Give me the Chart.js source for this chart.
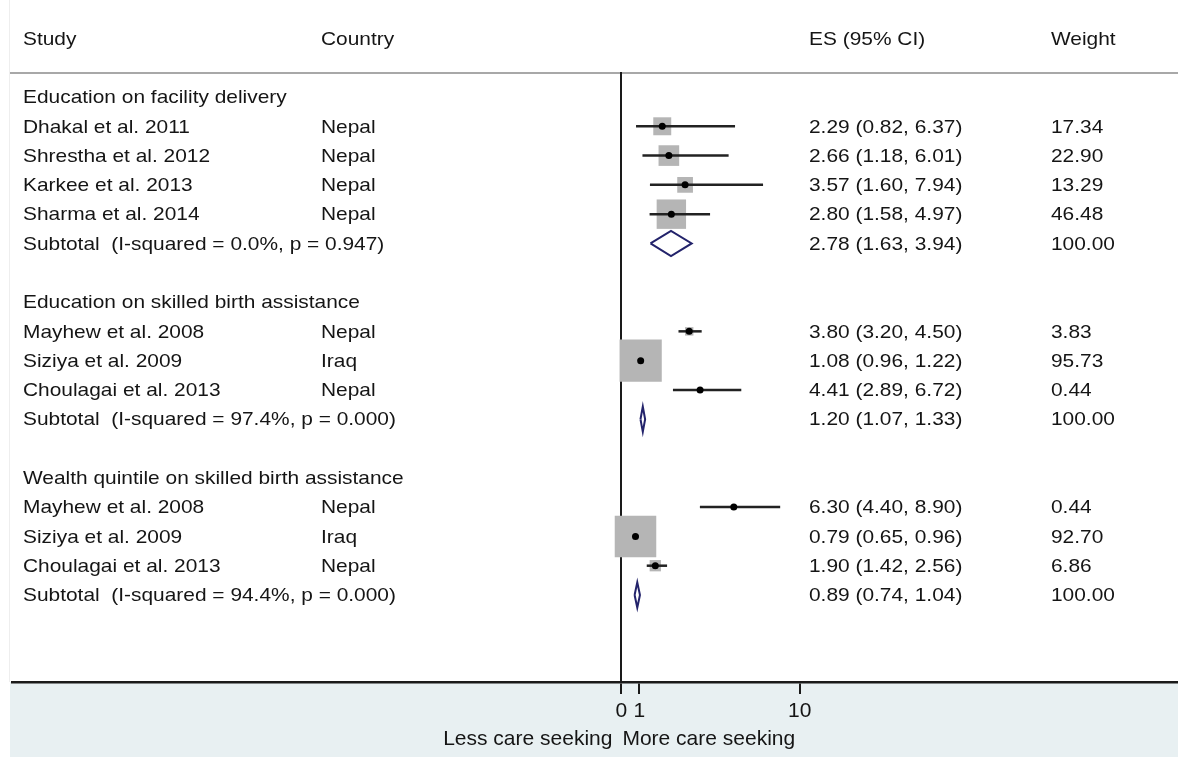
<!DOCTYPE html>
<html>
<head>
<meta charset="utf-8">
<script src="https://cdn.jsdelivr.net/npm/chart.js@4.4.1/dist/chart.umd.min.js"></script>
<style>
  html, body { margin: 0; padding: 0; background: #fff; }
  #forest { display: block; }
</style>
</head>
<body>
<canvas id="forest" width="1178" height="757"></canvas>
<script>
// table / plot data
const groupNames = ['Education on facility delivery', 'Education on skilled birth assistance', 'Wealth quintile on skilled birth assistance'];
const groupRows = [0, 7, 13];

const studies = ['Dhakal et al. 2011', 'Shrestha et al. 2012', 'Karkee et al. 2013', 'Sharma et al. 2014',
                 'Mayhew et al. 2008', 'Siziya et al. 2009', 'Choulagai et al. 2013',
                 'Mayhew et al. 2008', 'Siziya et al. 2009', 'Choulagai et al. 2013'];
const countries = ['Nepal', 'Nepal', 'Nepal', 'Nepal', 'Nepal', 'Iraq', 'Nepal', 'Nepal', 'Iraq', 'Nepal'];
const studyRows = [1, 2, 3, 4, 8, 9, 10, 14, 15, 16];
const studyES = [2.29, 2.66, 3.57, 2.80, 3.80, 1.08, 4.41, 6.30, 0.79, 1.90];
const studyLow = [0.82, 1.18, 1.60, 1.58, 3.20, 0.96, 2.89, 4.40, 0.65, 1.42];
const studyHigh = [6.37, 6.01, 7.94, 4.97, 4.50, 1.22, 6.72, 8.90, 0.96, 2.56];
const studyWeight = [17.34, 22.90, 13.29, 46.48, 3.83, 95.73, 0.44, 0.44, 92.70, 6.86];

const subtotalLabels = ['Subtotal  (I-squared = 0.0%, p = 0.947)', 'Subtotal  (I-squared = 97.4%, p = 0.000)', 'Subtotal  (I-squared = 94.4%, p = 0.000)'];
const subtotalRows = [5, 11, 17];
const subtotalES = [2.78, 1.20, 0.89];
const subtotalLow = [1.63, 1.07, 0.74];
const subtotalHigh = [3.94, 1.33, 1.04];
const subtotalWeight = [100, 100, 100];

const tickValues = [0, 1, 10];
const tickLabels = ['0', '1', '10'];
const headers = ['Study', 'Country', 'ES (95% CI)', 'Weight'];
const sideLabels = ['Less care seeking', 'More care seeking'];

// look
const FAMILY = '"Liberation Sans", Arial, sans-serif';
const FONT = '19px ' + FAMILY;
const TEXT = '#151515';
const colX = [23, 321, 809, 1051];
const stretch = 1.1;       // table text is a bit wider than plain Arial
const boxScale = 3.05;     // point radius per sqrt(weight)
const diamondHalf = 0.43;  // in rows

function fmt(v) { return v.toFixed(2); }
function ciText(e, l, h) { return fmt(e) + ' (' + fmt(l) + ', ' + fmt(h) + ')'; }

function wideText(ctx, t, x, y) {
    ctx.save();
    ctx.translate(x, y);
    ctx.scale(stretch, 1);
    ctx.fillText(t, 0, 0);
    ctx.restore();
}

let datasets = [];

// CI lines
studies.forEach(function(s, i) {
    datasets.push({
        type: 'scatter',
        showLine: true,
        data: [{x: studyLow[i], y: studyRows[i]}, {x: studyHigh[i], y: studyRows[i]}],
        borderColor: '#222',
        borderWidth: 2.5,
        pointRadius: 0,
        order: 1
    });
});

// pooled diamonds
subtotalLabels.forEach(function(s, i) {
    let r = subtotalRows[i];
    datasets.push({
        type: 'scatter',
        showLine: true,
        data: [
            {x: subtotalLow[i], y: r},
            {x: subtotalES[i], y: r - diamondHalf},
            {x: subtotalHigh[i], y: r},
            {x: subtotalES[i], y: r + diamondHalf},
            {x: subtotalLow[i], y: r}
        ],
        borderColor: '#23236b',
        borderWidth: 2,
        borderJoinStyle: 'miter',
        pointRadius: 0,
        order: 1
    });
});

// weight boxes
datasets.push({
    type: 'scatter',
    data: studies.map(function(s, i) { return {x: studyES[i], y: studyRows[i]}; }),
    pointStyle: 'rect',
    pointRadius: studyWeight.map(function(w) { return boxScale * Math.sqrt(w); }),
    pointBackgroundColor: '#b5b5b5',
    pointBorderWidth: 0,
    order: 2
});

// point estimates
datasets.push({
    type: 'scatter',
    data: studies.map(function(s, i) { return {x: studyES[i], y: studyRows[i]}; }),
    pointStyle: 'circle',
    pointRadius: 3.5,
    pointBackgroundColor: '#000',
    pointBorderWidth: 0,
    order: 0
});

const forestText = {
    id: 'forestText',
    beforeDraw: function(chart) {
        const ctx = chart.ctx;
        const area = chart.chartArea;
        ctx.save();
        ctx.fillStyle = '#fff';
        ctx.fillRect(0, 0, chart.width, chart.height);
        ctx.fillStyle = '#e8f0f2';
        ctx.fillRect(area.left - 2, area.bottom, chart.width - area.left + 2, chart.height - area.bottom);
        // header rule
        ctx.strokeStyle = '#a8a8a8';
        ctx.lineWidth = 2;
        ctx.beginPath();
        ctx.moveTo(area.left - 2, area.top + 1);
        ctx.lineTo(chart.width, area.top + 1);
        ctx.stroke();
        ctx.strokeStyle = '#eeeeee';
        ctx.lineWidth = 1;
        ctx.beginPath();
        ctx.moveTo(area.left - 2.5, 0);
        ctx.lineTo(area.left - 2.5, area.bottom);
        ctx.stroke();
        ctx.restore();
    },
    afterDraw: function(chart) {
        const ctx = chart.ctx;
        const y = chart.scales.y;
        const x = chart.scales.x;
        const area = chart.chartArea;
        ctx.save();
        ctx.font = FONT;
        ctx.fillStyle = TEXT;
        ctx.textBaseline = 'middle';
        ctx.textAlign = 'left';

        headers.forEach(function(h, i) {
            wideText(ctx, h, colX[i], y.getPixelForValue(-2) + 1);
        });
        groupNames.forEach(function(g, i) {
            wideText(ctx, g, colX[0], y.getPixelForValue(groupRows[i]) + 1);
        });
        studies.forEach(function(s, i) {
            let py = y.getPixelForValue(studyRows[i]) + 1;
            wideText(ctx, s, colX[0], py);
            wideText(ctx, countries[i], colX[1], py);
            wideText(ctx, ciText(studyES[i], studyLow[i], studyHigh[i]), colX[2], py);
            wideText(ctx, fmt(studyWeight[i]), colX[3], py);
        });
        subtotalLabels.forEach(function(s, i) {
            let py = y.getPixelForValue(subtotalRows[i]) + 1;
            wideText(ctx, s, colX[0], py);
            wideText(ctx, ciText(subtotalES[i], subtotalLow[i], subtotalHigh[i]), colX[2], py);
            wideText(ctx, fmt(subtotalWeight[i]), colX[3], py);
        });

        // direction labels either side of the null line
        let x0 = x.getPixelForValue(0);
        let ly = area.bottom + 57;
        ctx.font = '21px ' + FAMILY;
        ctx.textAlign = 'right';
        ctx.fillText(sideLabels[0], x0 - 9, ly);
        ctx.textAlign = 'left';
        ctx.fillText(sideLabels[1], x0 + 1, ly);
        ctx.restore();
    }
};

const chart = new Chart(document.getElementById('forest').getContext('2d'), {
    type: 'scatter',
    data: { datasets: datasets },
    plugins: [forestText],
    options: {
        responsive: false,
        animation: false,
        events: [],
        layout: { autoPadding: false, padding: { top: 72, left: 12, right: 0, bottom: 0 } },
        plugins: {
            legend: { display: false },
            tooltip: { enabled: false }
        },
        scales: {
            x: {
                type: 'linear',
                min: -34.16,
                max: 31.2,
                afterBuildTicks: function(scale) {
                    scale.ticks = tickValues.map(function(v) { return {value: v}; });
                },
                afterFit: function(scale) {
                    scale.height = 75;
                },
                ticks: {
                    autoSkip: false,
                    maxRotation: 0,
                    padding: 5,
                    color: TEXT,
                    font: { family: FAMILY, size: 21 },
                    callback: function(value) {
                        return tickLabels[tickValues.indexOf(value)];
                    }
                },
                grid: {
                    color: function(c) {
                        return c.tick && c.tick.value === 0 ? '#1a1a1a' : 'rgba(0,0,0,0)';
                    },
                    lineWidth: 2,
                    tickColor: '#1a1a1a',
                    tickLength: 12
                },
                border: { display: true, color: '#1a1a1a', width: 2.5 }
            },
            y: {
                type: 'linear',
                reverse: true,
                min: -0.853,
                max: 19.97,
                display: false
            }
        }
    }
});
</script>
</body>
</html>
